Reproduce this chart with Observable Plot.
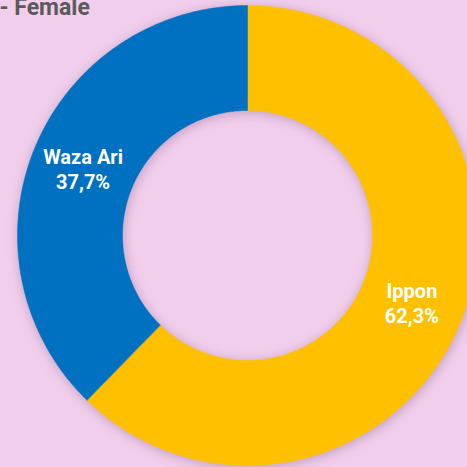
<!DOCTYPE html>
<html>
<head>
<meta charset="utf-8">
<script src="https://cdn.jsdelivr.net/npm/d3@7"></script>
<script src="https://cdn.jsdelivr.net/npm/@observablehq/plot@0.6"></script>
<style>
  html, body { margin: 0; padding: 0; background: #F1CFEC; }
  #chart { width: 467px; height: 467px; overflow: hidden; }
  #chart svg g[aria-label="line"] { filter: drop-shadow(1px 2px 6px rgba(90, 40, 90, 0.30)); }
</style>
</head>
<body>
<div id="chart"></div>
<script>
const title = "- Female";
const categories = ["Ippon", "Waza Ari"];
const values = [62.3, 37.7];
const colors = ["#FFC000", "#0070C0"];

const innerR = 125 / 230;
const outerR = 1;

const pie = d3.pie().sort(null).value(d => d.value);
const arcs = pie(categories.map((c, i) => ({label: c, value: values[i]})));

// ring polygons in unit coordinates (angle clockwise from top)
const pts = [];
for (const a of arcs) {
  const n = Math.max(8, Math.ceil((a.endAngle - a.startAngle) / 0.01));
  const angs = d3.range(n + 1).map(k => a.startAngle + (a.endAngle - a.startAngle) * k / n);
  for (const t of angs) pts.push({label: a.data.label, x: outerR * Math.sin(t), y: outerR * Math.cos(t)});
  for (const t of angs.slice().reverse()) pts.push({label: a.data.label, x: innerR * Math.sin(t), y: innerR * Math.cos(t)});
}

const rMid = (innerR + outerR) / 2;
const labels = arcs.map(a => {
  const t = (a.startAngle + a.endAngle) / 2;
  return {
    x: rMid * Math.sin(t),
    y: rMid * Math.cos(t),
    text: a.data.label + "\n" + a.data.value.toFixed(1).replace(".", ",") + "%"
  };
});

const chart = Plot.plot({
  width: 467,
  height: 467,
  margin: 0,
  style: {background: "#F1CFEC", overflow: "hidden"},
  x: {domain: [-247 / 230, 220 / 230], axis: null},
  y: {domain: [-232 / 230, 235 / 230], axis: null},
  color: {domain: categories, range: colors},
  marks: [
    Plot.line(pts, {x: "x", y: "y", z: "label", fill: "label", stroke: "label", strokeWidth: 0.5, curve: "linear-closed"}),
    Plot.text(labels, {x: "x", y: "y", text: "text", fill: "white", fontSize: 20, fontWeight: "bold", fontFamily: "Roboto", lineHeight: 1.25}),
    Plot.text([title], {frameAnchor: "top-left", lineAnchor: "bottom", dy: 14, dx: -1, textAnchor: "start", fill: "#5A5A5A", fontSize: 23, fontWeight: "bold", fontFamily: "Roboto"})
  ]
});
document.getElementById("chart").appendChild(chart);
</script>
</body>
</html>
